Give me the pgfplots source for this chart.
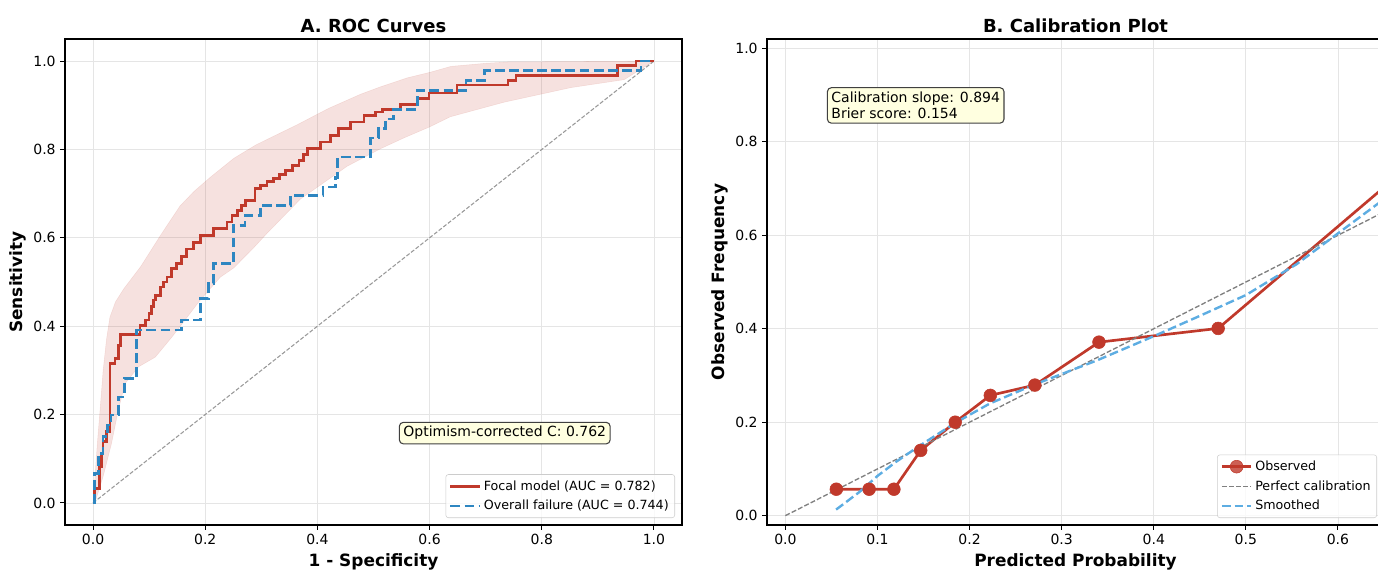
\documentclass[border=0pt]{standalone}
\usepackage{fontspec}
\setmainfont{DejaVu Sans}
\usepackage{pgfplots}
\pgfplotsset{compat=1.18}

\definecolor{focal}{HTML}{C0392B}
\definecolor{overall}{HTML}{2E86C1}
\definecolor{smoothc}{HTML}{5DADE2}
\definecolor{boxfill}{HTML}{FFFFE0}

\pgfplotsset{
  panel/.style={
    scale only axis, width=462.75pt, height=364.5pt, anchor=south west,
    axis line style={line width=1.1pt},
    tick style={black, line width=0.8pt},
    tick align=outside, major tick length=3.5pt, tick pos=left,
    grid=major, grid style={black!10, line width=0.6pt},
    tick label style={font=\fontsize{10.5}{12}\selectfont},
    /pgf/number format/fixed, /pgf/number format/fixed zerofill,
    /pgf/number format/precision=1, /pgf/number format/assume math mode=true,
    label style={font=\bfseries\fontsize{12.7}{15}\selectfont},
    xlabel style={at={(axis description cs:0.5,-0.086)}, anchor=base},
    ylabel style={at={(axis description cs:-0.069,0.5)}, anchor=base},
    every axis title shift=0pt,
    title style={font=\bfseries\fontsize{13.5}{16}\selectfont,
      at={(axis description cs:0.5,1.0134)}, anchor=base},
    legend style={font=\fontsize{9.5}{11}\selectfont, draw=black!20,
      rounded corners=2pt, fill=white, fill opacity=0.8, text opacity=1,
      draw opacity=1, cells={anchor=west}, inner sep=2.5pt, row sep=2pt},
    legend image code/.code={\draw[mark repeat=2,mark phase=2,#1]
      plot coordinates {(0pt,0pt) (11pt,0pt) (22pt,0pt)};},
  }
}

\begin{document}
\begin{tikzpicture}
% the reference is cut off at its right edge: fix the page to that size
\useasboundingbox (0,0) rectangle (1033.5pt,429pt);

% A. ROC curves
\begin{axis}[panel, at={(48.75pt,35.25pt)},
  xmin=-0.05, xmax=1.05, ymin=-0.05, ymax=1.05,
  xtick={0,0.2,0.4,0.6,0.8,1}, ytick={0,0.2,0.4,0.6,0.8,1},
  title={A. ROC Curves}, xlabel={1 - Specificity}, ylabel={Sensitivity},
  legend style={at={(1,0)}, anchor=south east, xshift=-5.25pt, yshift=5.25pt},
  legend image code/.code={\draw[#1, sharp plot] plot coordinates {(0pt,0pt) (22pt,0pt)};},
]
% bootstrap band: upper edge, then lower edge backwards
\addplot[forget plot, fill=focal, fill opacity=0.15, draw=focal, draw opacity=0.12]
  coordinates {
  (0,0) (0.004,0.07) (0.008,0.14) (0.0125,0.21) (0.018,0.30) (0.024,0.37)
  (0.03,0.42) (0.04,0.455) (0.055,0.485) (0.07,0.51) (0.085,0.535) (0.1,0.565)
  (0.12,0.605) (0.155,0.672) (0.18,0.705) (0.209,0.737) (0.251,0.78) (0.29,0.81)
  (0.322,0.83) (0.364,0.856) (0.42,0.893) (0.477,0.925) (0.513,0.942) (0.56,0.962)
  (0.602,0.975) (0.638,0.988) (0.70,0.995) (0.74,0.998) (1,1)
  (0.947,0.958) (0.852,0.94) (0.733,0.907) (0.637,0.874) (0.60,0.851) (0.554,0.826)
  (0.513,0.802) (0.453,0.762) (0.37,0.688) (0.31,0.610) (0.286,0.577) (0.251,0.532)
  (0.227,0.511) (0.191,0.459) (0.164,0.414) (0.141,0.376) (0.111,0.33) (0.081,0.308)
  (0.057,0.27) (0.045,0.21) (0.033,0.135) (0.018,0.06) (0.004,0.003)
  } -- cycle;
\addplot[forget plot, black!40, line width=0.8pt, dash pattern=on 3pt off 1.4pt]
  coordinates {(0,0) (1,1)};
\addplot[const plot, focal, line width=2pt] coordinates {
  (0,0) (0.003,0.033) (0.011,0.082) (0.015,0.112) (0.018,0.139) (0.024,0.161)
  (0.030,0.316) (0.039,0.327) (0.045,0.357) (0.049,0.381) (0.084,0.402) (0.093,0.414)
  (0.100,0.429) (0.104,0.445) (0.108,0.459) (0.111,0.470) (0.120,0.489) (0.126,0.500)
  (0.132,0.511) (0.140,0.530) (0.149,0.542) (0.158,0.557) (0.167,0.575) (0.179,0.590)
  (0.191,0.606) (0.215,0.621) (0.239,0.636) (0.248,0.650) (0.257,0.662) (0.265,0.673)
  (0.272,0.685) (0.289,0.711) (0.298,0.719) (0.310,0.727) (0.322,0.734) (0.333,0.744)
  (0.343,0.753) (0.355,0.764) (0.367,0.775) (0.375,0.789) (0.382,0.802) (0.405,0.817)
  (0.423,0.832) (0.438,0.847) (0.459,0.862) (0.483,0.877) (0.504,0.885) (0.516,0.890)
  (0.548,0.902) (0.578,0.916) (0.599,0.928) (0.649,0.946) (0.740,0.956) (0.754,0.967)
  (0.935,0.990) (0.968,1.0) (1.0,1.0)
};
\addlegendentry{Focal model (AUC = 0.782)}
\addplot[const plot, overall, line width=2pt, dash pattern=on 7.4pt off 3.2pt] coordinates {
  (0,0) (0.002,0.067) (0.0095,0.112) (0.018,0.150) (0.026,0.176) (0.032,0.199)
  (0.045,0.240) (0.056,0.282) (0.078,0.391) (0.158,0.414) (0.191,0.462) (0.206,0.496)
  (0.215,0.542) (0.250,0.628) (0.271,0.651) (0.298,0.673) (0.352,0.696) (0.410,0.715)
  (0.432,0.737) (0.436,0.783) (0.495,0.826) (0.509,0.847) (0.521,0.869) (0.536,0.890)
  (0.578,0.934) (0.665,0.956) (0.698,0.978) (0.977,1.0) (1.0,1.0)
};
\addlegendentry{Overall failure (AUC = 0.744)}
\node[draw=black!75, fill=boxfill, rounded corners=3pt, line width=0.8pt,
  font=\fontsize{10.5}{12}\selectfont, inner sep=3pt]
  at (axis cs:0.734,0.158) {Optimism-corrected C: 0.762};
\end{axis}

% B. Calibration plot
\begin{axis}[panel, at={(575.25pt,35.25pt)},
  xmin=-0.02, xmax=0.65, ymin=-0.02, ymax=1.02,
  xtick={0,0.1,0.2,0.3,0.4,0.5,0.6}, ytick={0,0.2,0.4,0.6,0.8,1},
  title={B. Calibration Plot}, xlabel={Predicted Probability}, ylabel={Observed Frequency},
  legend style={at={(1,0)}, anchor=south east, xshift=-5.25pt, yshift=5.25pt},
]
\addplot[focal, line width=2pt, mark=*, mark size=4.8pt,
  mark options={solid, fill=focal, draw=focal, line width=0.4pt}]
  coordinates {
  (0.0553,0.0566) (0.0909,0.0566) (0.1178,0.0566) (0.1469,0.1397) (0.1844,0.2000)
  (0.2225,0.2574) (0.2709,0.2794) (0.3405,0.3713) (0.4699,0.4007) (0.72,0.82)
};
\addlegendentry{Observed}
\addplot[black!50, line width=1pt, dash pattern=on 3.7pt off 1.6pt] coordinates {(0,0) (1,1)};
\addlegendentry{Perfect calibration}
\addplot[smoothc, line width=1.8pt, dash pattern=on 6.6pt off 2.9pt] coordinates {
  (0.055,0.013) (0.08,0.05) (0.10,0.085) (0.12,0.115) (0.146,0.150) (0.184,0.198)
  (0.222,0.240) (0.271,0.281) (0.338,0.332) (0.40,0.384) (0.446,0.424) (0.50,0.472)
  (0.555,0.538) (0.60,0.604) (0.643,0.667) (0.70,0.75)
};
\addlegendentry{Smoothed}
\node[draw=black!75, fill=boxfill, rounded corners=3pt, line width=0.8pt, anchor=north west,
  align=left, font=\fontsize{10.5}{12.5}\selectfont, inner sep=3pt]
  at (axis cs:0.045,0.917) {Calibration slope: 0.894\\Brier score: 0.154};
\end{axis}
\end{tikzpicture}
\end{document}
